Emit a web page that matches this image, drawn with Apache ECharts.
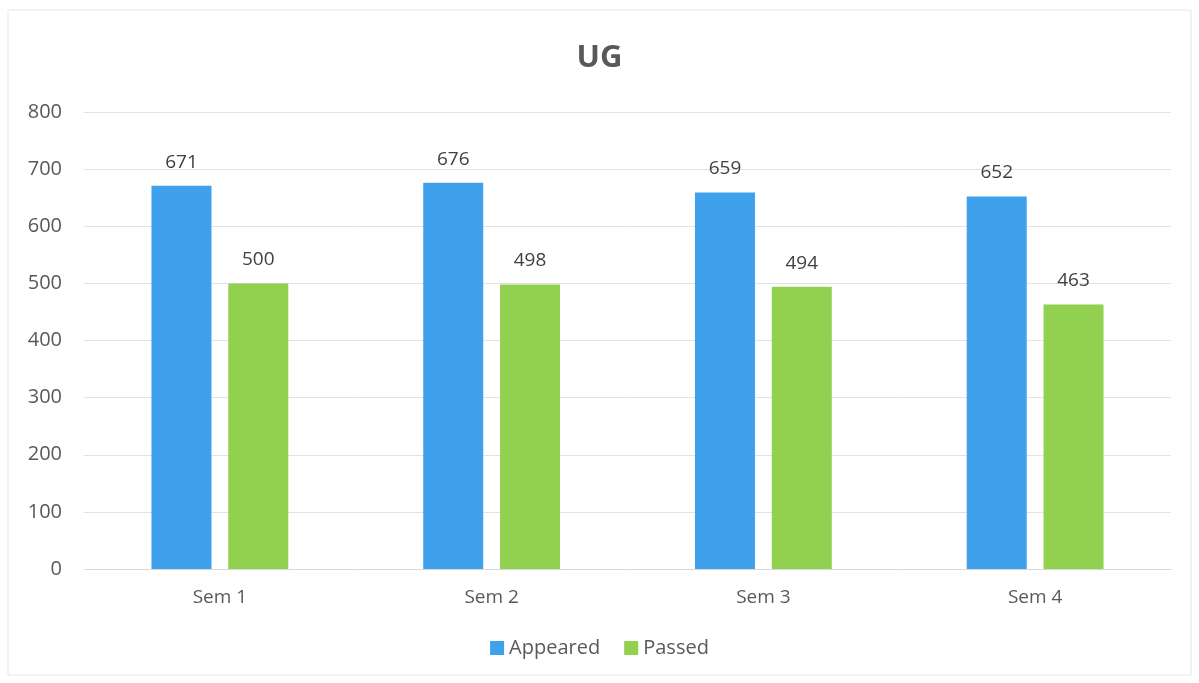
<!DOCTYPE html>
<html><head><meta charset="utf-8">
<script src="https://cdn.jsdelivr.net/npm/echarts@6/dist/echarts.min.js"></script>
<style>html,body{margin:0;padding:0;background:#fff}#c{width:1199px;height:683px}</style>
</head><body><div id="c"></div>
<script>
const categories = ['Sem 1', 'Sem 2', 'Sem 3', 'Sem 4'];
const appeared = [671, 676, 659, 652];
const passed = [500, 498, 494, 463];
const yTicks = { min: 0, max: 800, interval: 100 };

const chart = echarts.init(document.getElementById('c'));
const font = 'Open Sans';
chart.setOption({
  backgroundColor: '#fff',
  animation: false,
  title: { text: 'UG', left: 'center', top: 38, textStyle: { fontFamily: font, fontSize: 31, fontWeight: 'bold', color: '#595959' } },
  legend: { bottom: 20, left: 'center', itemWidth: 14, itemHeight: 14, itemGap: 24, icon: 'rect',
    textStyle: { fontFamily: font, fontSize: 20, color: '#595959' } },
  grid: { left: 84, right: 28, top: 112, bottom: 114 },
  xAxis: { type: 'category', data: categories,
    axisLine: { lineStyle: { color: '#d9d9d9' } }, axisTick: { show: false },
    axisLabel: { fontFamily: font, fontSize: 19, color: '#595959', margin: 19 } },
  yAxis: { type: 'value', min: yTicks.min, max: yTicks.max, interval: yTicks.interval,
    axisLine: { show: false }, axisTick: { show: false },
    splitLine: { lineStyle: { color: '#e3e3e3' } },
    axisLabel: { fontFamily: font, fontSize: 20, color: '#595959', margin: 22 } },
  series: [
    { name: 'Appeared', type: 'bar', data: appeared, barWidth: 60, barGap: '28%',
      itemStyle: { color: '#3fa0ec' },
      label: { show: true, position: 'top', distance: 14, fontFamily: font, fontSize: 19, color: '#404040' } },
    { name: 'Passed', type: 'bar', data: passed, barWidth: 60,
      itemStyle: { color: '#92d050' },
      label: { show: true, position: 'top', distance: 14, fontFamily: font, fontSize: 19, color: '#404040' } }
  ],
  graphic: [{ type: 'rect', shape: { x: 8, y: 10, width: 1183, height: 665 }, style: { fill: 'none', stroke: '#e6e6e6', lineWidth: 1 }, silent: true }]
});
</script></body></html>
